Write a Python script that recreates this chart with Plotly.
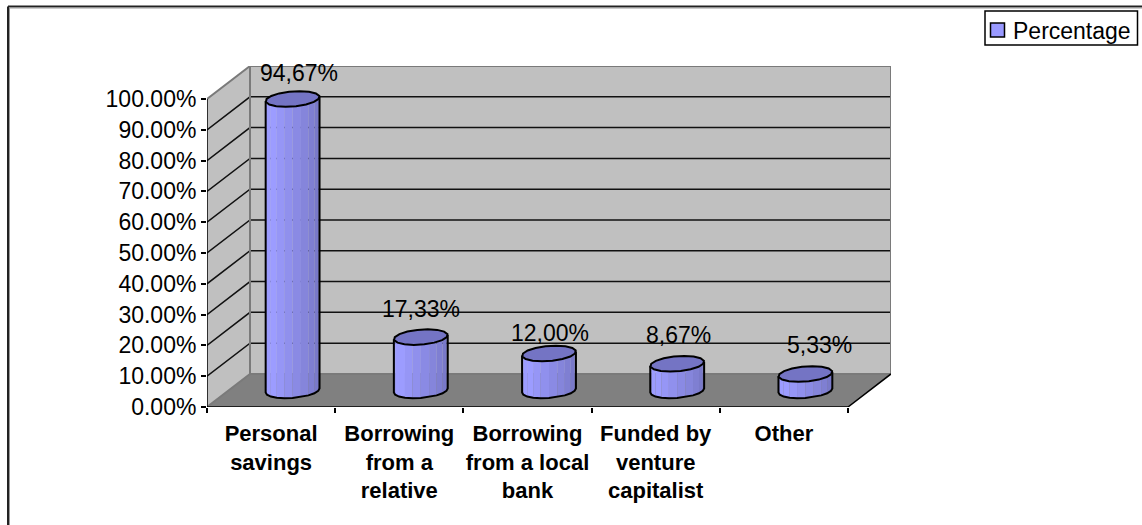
import numpy as np
import plotly.graph_objects as go

# Survey results
series_name = "Percentage"
categories = ["Personal<br>savings", "Borrowing<br>from a<br>relative", "Borrowing<br>from a local<br>bank",
              "Funded by<br>venture<br>capitalist", "Other"]
percentages = [94.67, 17.33, 12.00, 8.67, 5.33]
y_ticks = [0, 10, 20, 30, 40, 50, 60, 70, 80, 90, 100]
y_tick_labels = ["0.00%", "10.00%", "20.00%", "30.00%", "40.00%", "50.00%", "60.00%", "70.00%",
                 "80.00%", "90.00%", "100.00%"]
label_dx = [6, 0, 1, 1, 14]
label_dy = [-26, -28, -21, -29, -29]

# Page geometry of the front axes, in pixels
W, H = 1142, 525
LEFT, RIGHT, TOP, BOTTOM = 207, 891, 66, 407
CAT_PX = 128.2
VAL_PX = 3.075

# Oblique depth of the box and radius of the cylinders, in axis units
DEPTH_X = 43 / CAT_PX
DEPTH_Y = 33 / VAL_PX
RAD_X = 26 / CAT_PX
SHEAR_X = 7 / CAT_PX
RAD_Y = 7.8 / VAL_PX
X_MAX = len(categories) + DEPTH_X
Y_MAX = 100 + DEPTH_Y

LIGHT = np.array([0x9c, 0x9c, 0xff])
DARK = np.array([0x6e, 0x6e, 0xb8])
TOP_FILL = "#7474c4"
WALL = "#c0c0c0"
FLOOR = "#808080"
EDGE = "#7a7a7a"


def poly(xs, ys, fill=None, line=None, width=1.5):
    return go.Scatter(
        x=list(xs), y=list(ys), mode="lines", cliponaxis=False, showlegend=False, hoverinfo="skip",
        fill="toself" if fill else None, fillcolor=fill,
        line=dict(color=line or "rgba(0,0,0,0)", width=width if line else 0),
    )


fig = go.Figure()

# Walls and floor
fig.add_trace(poly([0, DEPTH_X, DEPTH_X, 0, 0], [0, DEPTH_Y, Y_MAX, 100, 0], WALL))
fig.add_trace(poly([DEPTH_X, X_MAX, X_MAX, DEPTH_X, DEPTH_X], [DEPTH_Y, DEPTH_Y, Y_MAX, Y_MAX, DEPTH_Y], WALL))
fig.add_trace(poly([0, X_MAX - DEPTH_X, X_MAX, DEPTH_X, 0], [0, 0, DEPTH_Y, DEPTH_Y, 0], FLOOR))

# Gridlines across the side and back walls
gx, gy = [], []
for v in y_ticks[1:-1]:
    gx += [0, DEPTH_X, X_MAX, None]
    gy += [v, v + DEPTH_Y, v + DEPTH_Y, None]
fig.add_trace(poly(gx, gy, None, "#111111", 1.5))

# Wall edges
fig.add_trace(poly([0, DEPTH_X, X_MAX, X_MAX, None, DEPTH_X, DEPTH_X, None, 0, DEPTH_X, X_MAX],
                   [100, Y_MAX, Y_MAX, DEPTH_Y, None, Y_MAX, DEPTH_Y, None, 0, DEPTH_Y, DEPTH_Y],
                   None, EDGE, 2))

# Front axis lines
fig.add_trace(poly([0, 0, X_MAX - DEPTH_X, X_MAX], [100, 0, 0, DEPTH_Y], None, "#000000", 1.5))

# Cylinders: faceted body, then the elliptical cap
FACETS = 16
turn = np.linspace(0, 2 * np.pi, FACETS + 1)
tilt = np.arctan2(SHEAR_X, RAD_X)


def ring(cx, cy, t):
    return cx + RAD_X * np.cos(t) + SHEAR_X * np.sin(t), cy + RAD_Y * np.sin(t)


for i, value in enumerate(percentages):
    cx = i + 0.5 + DEPTH_X / 2
    base = DEPTH_Y / 2
    roof = value + DEPTH_Y / 2
    # front half of the circle, running from the left silhouette to the right one
    front = np.linspace(np.pi + tilt, 2 * np.pi + tilt, FACETS // 2 + 3)
    for k in range(len(front) - 1):
        share = min(1.0, max(0.0, (k - 2) / (len(front) - 3)))
        col = LIGHT + (DARK - LIGHT) * share
        xa, ya = ring(cx, base, front[k])
        xb, yb = ring(cx, base, front[k + 1])
        xc, yc = ring(cx, roof, front[k + 1])
        xd, yd = ring(cx, roof, front[k])
        fig.add_trace(poly([xa, xb, xc, xd, xa], [ya, yb, yc, yd, ya],
                           "rgb(%d,%d,%d)" % tuple(col), None))
    bx, by = ring(cx, base, front)
    tx, ty = ring(cx, roof, front[[0, -1]])
    fig.add_trace(poly([tx[0], *bx, tx[1]], [ty[0], *by, ty[1]], None, "#000000", 2))
    cap_x, cap_y = ring(cx, roof, turn)
    fig.add_trace(poly(cap_x, cap_y, TOP_FILL, "#000000", 2))
    fig.add_annotation(x=cx, y=roof, text=f"{value:.2f}".replace(".", ",") + "%", showarrow=False,
                       xshift=label_dx[i], yshift=-label_dy[i],
                       font=dict(family="Liberation Sans", size=23, color="#000000"))


def px(p):
    return (p - LEFT) / (RIGHT - LEFT)


def py(p):
    return (BOTTOM - p) / (BOTTOM - TOP)


# Outer chart frame, open on the right and at the bottom
shapes = []
for off, col, wd in ((0, "#222222", 2), (1.5, "#999999", 1)):
    shapes.append(dict(type="line", xref="paper", yref="paper", x0=px(8 + off), x1=px(W),
                       y0=py(6.5 + off), y1=py(6.5 + off), line=dict(color=col, width=wd)))
    shapes.append(dict(type="line", xref="paper", yref="paper", x0=px(8 + off), x1=px(8 + off),
                       y0=py(6.5 + off), y1=py(H), line=dict(color=col, width=wd)))

# Legend box with its colour swatch and series name
shapes.append(dict(type="rect", xref="paper", yref="paper", x0=px(985), x1=px(1137.5), y0=py(11), y1=py(45),
                   fillcolor="white", line=dict(color="#000000", width=1.5)))
shapes.append(dict(type="rect", xref="paper", yref="paper", x0=px(990.5), x1=px(1004.5), y0=py(23), y1=py(37),
                   fillcolor="#9999ff", line=dict(color="#000000", width=1.5)))
fig.add_annotation(xref="paper", yref="paper", x=px(1011), y=py(30.5), text=series_name, showarrow=False,
                   xanchor="left", yanchor="middle", font=dict(family="Liberation Sans", size=23, color="#000000"))

fig.update_layout(
    width=W, height=H, autosize=False, paper_bgcolor="white", plot_bgcolor="white",
    margin=dict(l=LEFT, r=W - RIGHT, t=TOP, b=H - BOTTOM, pad=0, autoexpand=False),
    font=dict(family="Liberation Sans", color="#000000"),
    shapes=shapes,
    showlegend=False,
    xaxis=dict(
        range=[0, X_MAX], showgrid=False, zeroline=False, showline=False,
        tickmode="array", tickvals=[i + 0.5 for i in range(len(categories))], ticktext=categories,
        ticks="", tickangle=0, ticklabelstandoff=11,
        tickfont=dict(family="Liberation Sans", size=22, weight="bold", color="#000000"),
        minor=dict(tickmode="array", tickvals=list(range(len(categories) + 1)), ticks="outside",
                   ticklen=5, tickwidth=1.5, tickcolor="#000000", showgrid=False),
    ),
    yaxis=dict(
        range=[0, Y_MAX], showgrid=False, zeroline=False, showline=False,
        tickmode="array", tickvals=y_ticks, ticktext=y_tick_labels,
        ticks="outside", ticklen=5, tickwidth=1.5, tickcolor="#000000",
        tickfont=dict(family="Liberation Sans", size=23, color="#000000"),
    ),
)

fig.write_html("out.html", config=dict(displayModeBar=False))
